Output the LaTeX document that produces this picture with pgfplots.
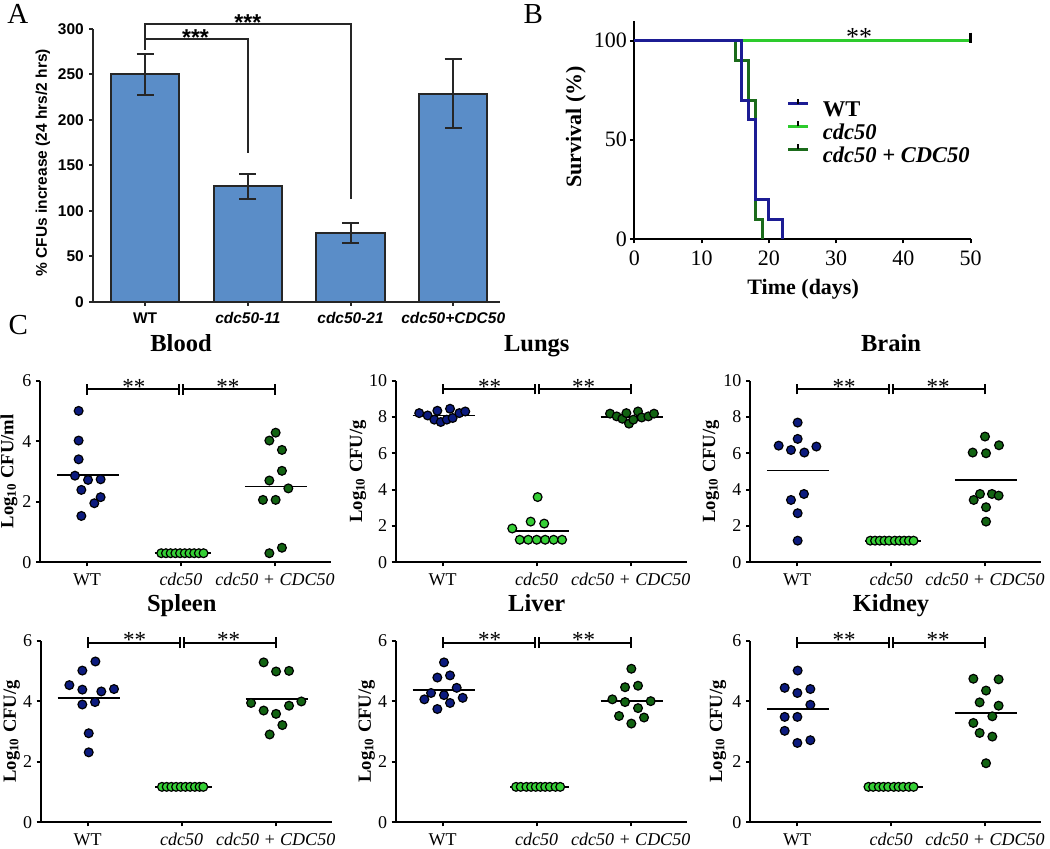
\documentclass[border=0pt]{standalone}
\usepackage{fontspec}
\setmainfont{Liberation Serif}
\newfontfamily\arial{Liberation Sans}
\usepackage{pgfplots}
\pgfplotsset{compat=1.18}

\definecolor{barblue}{HTML}{5A8DC8}
\definecolor{wtpt}{HTML}{0C1B7E}
\definecolor{mutpt}{HTML}{35CF35}
\definecolor{comppt}{HTML}{126312}
\definecolor{wtline}{HTML}{1C1C94}
\definecolor{mutline}{HTML}{2DCB2D}
\definecolor{compline}{HTML}{1B6B1B}

\pgfplotsset{
  cpanel/.style={
    anchor=south west, scale only axis,
    width=145.7pt, height=90.85pt,
    xmin=-0.5, xmax=2.6, ymin=0,
    axis lines=left, axis line style={-, line width=1pt},
    tick align=outside, major tick length=2pt,
    tick style={line width=1pt, black},
    xtick={0,1,2},
    xticklabels={WT,\textit{cdc50},\textit{cdc50 + CDC50}},
    ticklabel style={font=\fontsize{9}{10}\selectfont},
    yticklabel style={xshift=1.2pt},
    /pgf/number format/assume math mode=true,
    label style={font=\bfseries\fontsize{9.3}{11}\selectfont},
    every axis title shift=0pt,
    title style={at={(axis description cs:0.484,1.16)}, anchor=base,
      font=\bfseries\fontsize{12.25}{14}\selectfont},
    clip=false,
  },
  wtp/.style={only marks, mark=*, mark size=2.2pt,
    mark options={fill=wtpt, draw=black, line width=0.6pt}},
  mutp/.style={only marks, mark=*, mark size=2.2pt,
    mark options={fill=mutpt, draw=black, line width=0.6pt}},
  compp/.style={only marks, mark=*, mark size=2.2pt,
    mark options={fill=comppt, draw=black, line width=0.6pt}},
  meanl/.style={black, line width=0.9pt},
}

% significance bars: line value, cap half height, star baseline
\newcommand{\sigbars}[3]{%
  \draw[line width=1pt] (axis cs:0,#1) -- (axis cs:0.978,#1);
  \draw[line width=1pt] (axis cs:1.022,#1) -- (axis cs:2,#1);
  \draw[line width=1pt] (axis cs:0,#1-#2) -- (axis cs:0,#1+#2);
  \draw[line width=1pt] (axis cs:0.978,#1-#2) -- (axis cs:0.978,#1+#2);
  \draw[line width=1pt] (axis cs:1.022,#1-#2) -- (axis cs:1.022,#1+#2);
  \draw[line width=1pt] (axis cs:2,#1-#2) -- (axis cs:2,#1+#2);
  \node[anchor=base, font=\fontsize{11.5}{12}\selectfont] at (axis cs:0.5,#3) {**};
  \node[anchor=base, font=\fontsize{11.5}{12}\selectfont] at (axis cs:1.5,#3) {**};
}

\begin{document}
\begin{tikzpicture}
\path[use as bounding box] (0,0) rectangle (525pt,424.5pt);

\node[anchor=base west, inner sep=0pt, font=\fontsize{14.5}{16}\selectfont] at (3.5pt,412.5pt) {A};
\node[anchor=base west, inner sep=0pt, font=\fontsize{14.5}{16}\selectfont] at (261.65pt,412.85pt) {B};
\node[anchor=base west, inner sep=0pt, font=\fontsize{14.5}{16}\selectfont] at (4.15pt,257pt) {C};

% ---------------- A
\begin{axis}[
  at={(46.65pt,273.65pt)}, anchor=south west, scale only axis,
  width=203.35pt, height=136.35pt,
  xmin=-0.505, xmax=3.455, ymin=0, ymax=300,
  axis lines=left, axis line style={-, line width=1pt, black!85},
  tick align=outside, major tick length=2pt,
  tick style={line width=1pt, black!85},
  xtick={0,1,2,3},
  xticklabels={WT,\textit{cdc50-11},\textit{cdc50-21},\textit{cdc50+CDC50}},
  ytick={0,50,...,300},
  ticklabel style={font=\arial\bfseries\fontsize{7.75}{9}\selectfont},
  yticklabel style={xshift=0.8pt},
  /pgf/number format/assume math mode=true,
  ylabel={\% CFUs increase (24 hrs/2 hrs)},
  ylabel style={at={(axis description cs:-0.1237,0.51)}, anchor=center,
    font=\arial\bfseries\fontsize{7.75}{9}\selectfont},
  clip=false,
]
\addplot[ybar, bar width=0.665, fill=barblue, draw=black!85, line width=1pt,
  error bars/.cd, y dir=both, y explicit,
  error bar style={line width=1pt, black!85},
  error mark options={rotate=90, mark size=4.3pt, line width=1pt, black!85}]
  coordinates {(0,250) +- (0,22.5) (1,127) +- (0,13.5) (2,76) +- (0,11) (3,229) +- (0,37.6)};
\draw[line width=1pt, black!85] (axis cs:0,277) -- (axis cs:0,305.5) -- (axis cs:2,305.5) -- (axis cs:2,112.6);
\draw[line width=1pt, black!85] (axis cs:0,288.6) -- (axis cs:1,288.6) -- (axis cs:1,164);
\node[anchor=base, font=\arial\bfseries\fontsize{11.5}{12}\selectfont] at (axis cs:0.49,281.3) {***};
\node[anchor=base, font=\arial\bfseries\fontsize{11.5}{12}\selectfont] at (axis cs:1.0,298.1) {***};
\end{axis}

% ---------------- B
\begin{axis}[
  at={(317.15pt,305pt)}, anchor=south west, scale only axis,
  width=168.2pt, height=109.15pt,
  xmin=0, xmax=50, ymin=0, ymax=110,
  axis lines=left, axis line style={-, line width=1pt},
  tick align=outside, major tick length=2.2pt,
  tick style={line width=1pt, black},
  xtick={0,10,...,50}, ytick={0,50,100},
  ticklabel style={font=\fontsize{11}{12}\selectfont},
  yticklabel style={xshift=2pt},
  /pgf/number format/assume math mode=true,
  xlabel={Time (days)}, ylabel={Survival (\%)},
  label style={font=\bfseries\fontsize{11}{12}\selectfont},
  xlabel style={at={(axis description cs:0.502,-0.23)}, anchor=center},
  ylabel style={at={(axis description cs:-0.174,0.514)}, anchor=center},
  clip=false,
  legend style={at={(axis description cs:0.453,0.648)}, anchor=north west,
    draw=none, fill=none, inner sep=0pt, outer sep=0pt,
    row sep=-0.5pt, column sep=6.65pt,
    font=\bfseries\fontsize{11.25}{12}\selectfont,
    nodes={inner sep=0pt, text height=8pt, text depth=2.5pt}},
  legend cell align=left,
  legend image code/.code={
    \draw[#1, line width=1.5pt] (0pt,3.7pt) -- (10pt,3.7pt);
    \draw[black, line width=1pt] (5pt,3.7pt) -- (5pt,6.2pt);},
]
\addlegendimage{wtline}
\addlegendentry{WT}
\addlegendimage{mutline}
\addlegendentry{\textit{cdc50}}
\addlegendimage{compline}
\addlegendentry{\textit{cdc50 + CDC50}}
\addplot[const plot, mutline, line width=1.5pt, forget plot]
  coordinates {(0,100) (50,100)};
\addplot[const plot, compline, line width=1.5pt, forget plot]
  coordinates {(0,100) (15,90) (17,70) (18,10) (19,0)};
\addplot[const plot, wtline, line width=1.5pt, forget plot]
  coordinates {(0,100) (16,70) (17,60) (18,20) (20,10) (22,0)};
\addplot[forget plot, only marks, mark=|, mark size=2.5pt, mark options={black, line width=1.3pt}]
  coordinates {(50,101.5)};
\node[anchor=base, font=\fontsize{13}{14}\selectfont] at (axis cs:33.4,97.3) {**};
\end{axis}

% ---------------- C: Blood
\begin{axis}[cpanel, at={(20pt,143.35pt)}, ymax=6, ytick={0,2,4,6},
  title={Blood}, ylabel={Log\textsubscript{10} CFU/ml},
  ylabel style={at={(axis description cs:-0.091,0.5)}, anchor=base}]
\addplot[wtp] coordinates {(-0.089,5.0) (-0.089,4.02) (-0.089,3.40) (-0.128,2.86) (0.011,2.72) (0.145,2.74) (-0.06,2.39) (0.145,2.15) (0.078,1.95) (-0.06,1.53)};
\addplot[mutp] coordinates {(0.79,0.3) (0.84,0.3) (0.89,0.3) (0.94,0.3) (0.99,0.3) (1.04,0.3) (1.09,0.3) (1.14,0.3) (1.19,0.3) (1.24,0.3)};
\addplot[compp] coordinates {(2.007,4.28) (1.94,4.02) (2.074,3.71) (2.074,3.02) (1.94,2.70) (2.142,2.44) (1.872,2.06) (2.007,2.06) (2.074,0.48) (1.94,0.30)};
\addplot[meanl] coordinates {(-0.32,2.88) (0.34,2.88)};
\addplot[meanl] coordinates {(0.72,0.3) (1.32,0.3)};
\addplot[meanl] coordinates {(1.68,2.50) (2.34,2.50)};
\sigbars{5.71}{0.175}{5.545}
\end{axis}

% ---------------- C: Lungs
\begin{axis}[cpanel, at={(197.85pt,143.35pt)}, ymax=10, ytick={0,2,...,10},
  title={Lungs}, ylabel={Log\textsubscript{10} CFU/g},
  ylabel style={at={(axis description cs:-0.115,0.5)}, anchor=base}]
\addplot[wtp] coordinates {(-0.25,8.21) (-0.16,8.08) (-0.057,8.34) (-0.089,7.85) (-0.021,7.72) (0.043,7.85) (0.078,8.45) (0.106,7.94) (0.177,8.21) (0.24,8.30)};
\addplot[mutp] coordinates {(0.74,1.86) (0.936,2.24) (1.08,2.13) (1.01,3.59) (0.82,1.24) (0.91,1.24) (1.0,1.24) (1.09,1.24) (1.18,1.24) (1.27,1.24)};
\addplot[compp] coordinates {(1.78,8.18) (1.851,8.03) (1.911,7.90) (1.954,8.21) (1.982,7.63) (2.028,7.85) (2.078,8.30) (2.117,7.97) (2.188,8.03) (2.248,8.18)};
\addplot[meanl] coordinates {(-0.32,8.08) (0.34,8.08)};
\addplot[meanl] coordinates {(0.72,1.73) (1.34,1.73)};
\addplot[meanl] coordinates {(1.68,8.01) (2.34,8.01)};
\sigbars{9.53}{0.29}{9.26}
\end{axis}

% ---------------- C: Brain
\begin{axis}[cpanel, at={(375pt,143.35pt)}, ymax=10, ytick={0,2,...,10},
  title={Brain}, ylabel={Log\textsubscript{10} CFU/g},
  ylabel style={at={(axis description cs:-0.12,0.5)}, anchor=base}]
\addplot[wtp] coordinates {(0.007,7.69) (0.007,6.79) (-0.195,6.42) (-0.064,6.18) (0.078,6.04) (0.206,6.37) (0.074,3.76) (-0.064,3.43) (0.007,2.70) (0.007,1.19)};
\addplot[mutp] coordinates {(0.78,1.19) (0.83,1.19) (0.88,1.19) (0.93,1.19) (0.98,1.19) (1.04,1.19) (1.09,1.19) (1.14,1.19) (1.19,1.19) (1.24,1.19)};
\addplot[compp] coordinates {(2.0,6.92) (1.869,6.04) (2.011,6.0) (2.149,6.44) (1.88,3.43) (1.947,3.76) (2.074,3.76) (2.145,3.67) (2.011,3.03) (2.011,2.24)};
\addplot[meanl] coordinates {(-0.32,5.05) (0.34,5.05)};
\addplot[meanl] coordinates {(0.72,1.19) (1.32,1.19)};
\addplot[meanl] coordinates {(1.68,4.53) (2.34,4.53)};
\sigbars{9.53}{0.29}{9.26}
\end{axis}

% ---------------- C: Spleen
\begin{axis}[cpanel, at={(20.35pt,13.35pt)}, ymax=6, ytick={0,2,4,6},
  title={Spleen}, ylabel={Log\textsubscript{10} CFU/g},
  ylabel style={at={(axis description cs:-0.085,0.5)}, anchor=base}]
\addplot[wtp] coordinates {(0.082,5.31) (-0.057,5.01) (-0.195,4.53) (-0.057,4.38) (0.145,4.32) (0.28,4.40) (-0.057,3.89) (0.078,3.97) (0.011,2.94) (0.011,2.31)};
\addplot[mutp] coordinates {(0.79,1.17) (0.84,1.17) (0.89,1.17) (0.94,1.17) (0.99,1.17) (1.04,1.17) (1.09,1.17) (1.14,1.17) (1.19,1.17) (1.23,1.17)};
\addplot[compp] coordinates {(1.872,5.28) (2.004,4.98) (2.142,5.0) (1.738,3.94) (1.872,3.69) (2.004,3.58) (2.142,3.85) (2.273,3.99) (2.071,3.21) (1.936,2.90)};
\addplot[meanl] coordinates {(-0.32,4.11) (0.34,4.11)};
\addplot[meanl] coordinates {(0.72,1.17) (1.32,1.17)};
\addplot[meanl] coordinates {(1.68,4.06) (2.34,4.06)};
\sigbars{5.93}{0.175}{5.765}
\end{axis}

% ---------------- C: Liver
\begin{axis}[cpanel, at={(197.85pt,13.35pt)}, ymax=6, ytick={0,2,4,6},
  title={Liver}, ylabel={Log\textsubscript{10} CFU/g},
  ylabel style={at={(axis description cs:-0.085,0.5)}, anchor=base}]
\addplot[wtp] coordinates {(0.014,5.28) (-0.057,4.78) (0.078,4.85) (0.149,4.44) (-0.124,4.27) (0.014,4.20) (-0.195,4.06) (0.213,4.11) (0.078,3.94) (-0.057,3.74)};
\addplot[mutp] coordinates {(0.78,1.17) (0.83,1.17) (0.89,1.17) (0.94,1.17) (0.99,1.17) (1.04,1.17) (1.09,1.17) (1.14,1.17) (1.2,1.17) (1.25,1.17)};
\addplot[compp] coordinates {(2.007,5.07) (1.94,4.46) (2.078,4.51) (1.805,4.06) (1.94,3.97) (2.213,4.0) (2.078,3.77) (1.876,3.51) (2.142,3.46) (2.007,3.26)};
\addplot[meanl] coordinates {(-0.32,4.38) (0.34,4.38)};
\addplot[meanl] coordinates {(0.72,1.17) (1.34,1.17)};
\addplot[meanl] coordinates {(1.68,4.0) (2.34,4.0)};
\sigbars{5.93}{0.175}{5.765}
\end{axis}

% ---------------- C: Kidney
\begin{axis}[cpanel, at={(375pt,13.35pt)}, ymax=6, ytick={0,2,4,6},
  title={Kidney}, ylabel={Log\textsubscript{10} CFU/g},
  ylabel style={at={(axis description cs:-0.096,0.5)}, anchor=base}]
\addplot[wtp] coordinates {(0.007,5.01) (-0.131,4.44) (0.004,4.27) (0.142,4.40) (0.142,3.88) (-0.131,3.48) (0.004,3.48) (-0.131,3.02) (0.004,2.62) (0.142,2.71)};
\addplot[mutp] coordinates {(0.76,1.17) (0.81,1.17) (0.87,1.17) (0.92,1.17) (0.97,1.17) (1.03,1.17) (1.08,1.17) (1.13,1.17) (1.19,1.17) (1.24,1.17)};
\addplot[compp] coordinates {(1.876,4.74) (2.145,4.72) (2.011,4.35) (1.943,3.96) (2.145,3.85) (2.078,3.50) (1.876,3.28) (1.943,2.95) (2.078,2.83) (2.011,1.95)};
\addplot[meanl] coordinates {(-0.32,3.75) (0.34,3.75)};
\addplot[meanl] coordinates {(0.72,1.17) (1.34,1.17)};
\addplot[meanl] coordinates {(1.68,3.61) (2.34,3.61)};
\sigbars{5.93}{0.175}{5.765}
\end{axis}
\end{tikzpicture}
\end{document}
